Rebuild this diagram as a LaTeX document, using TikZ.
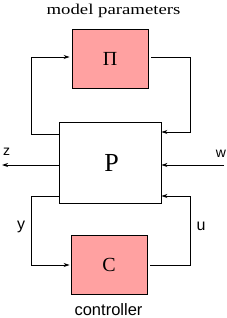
\documentclass[tikz,border=0pt]{standalone}
\usepackage{fontspec}
\setmainfont{Liberation Serif}
\newfontfamily\hv{Liberation Sans}
\usetikzlibrary{arrows.meta}
\definecolor{boxpink}{HTML}{FFA1A1}
\begin{document}
\begin{tikzpicture}[x=1pt,y=-1pt,
  blockbox/.style={draw=black,line width=0.9pt,fill=boxpink,minimum width=76pt,minimum height=59pt,inner sep=0pt,font=\fontsize{20}{20}\selectfont},
  plantbox/.style={draw=black,line width=0.9pt,fill=white,minimum width=102pt,minimum height=81pt,inner sep=0pt,font=\fontsize{26}{26}\selectfont},
  wire/.style={line width=0.9pt},
  arr/.style={wire,-{Stealth[length=6pt,width=4pt]}},
  sig/.style={font=\hv\fontsize{14}{14}\selectfont,anchor=base,inner sep=0pt},
  sigbig/.style={font=\hv\fontsize{16}{16}\selectfont,anchor=base,inner sep=0pt}]
\useasboundingbox (0,0) rectangle (227,318);
\node[blockbox] (Pi) at (110,58.5) {Π};
\node[plantbox] (P) at (110,162.5) {\hspace*{3pt}P};
\node[blockbox] (C) at (109,264.5) {C};
\node[anchor=base,inner sep=0pt,font=\fontsize{15}{15}\selectfont] (mp) at (113.5,14.8) {\scalebox{1.25}[1]{model parameters}};
\node[anchor=base,inner sep=0pt,font=\hv\fontsize{16.5}{16.5}\selectfont] (ctl) at (108.5,315.5) {controller};
\node[sig] (zl) at (6.5,155.5) {z};
\node[sig] (wl) at (221,157) {w};
\node[sigbig] (yl) at (21,229) {y};
\node[sigbig] (ul) at (201,230) {u};
\coordinate (zend) at (2,165);
\coordinate (wstart) at (224,165);
\draw[arr] (P.west |- 0,134) -- (31,134) -- (31,57) -- ([xshift=-2pt]Pi.west |- 0,57);
\draw[arr,shorten <=3pt] (Pi.east |- 0,57) -- (190,57) -- (190,132) -- (P.east |- 0,132);
\draw[arr] (P.west |- zend) -- (zend);
\draw[arr] (wstart) -- (P.east |- wstart);
\draw[arr] (P.west |- 0,196) -- (31,196) -- (31,265) -- ([xshift=-1pt]C.west |- 0,265);
\draw[arr,shorten <=3pt] (C.east |- 0,265) -- (190,265) -- (190,196) -- (P.east |- 0,196);
\end{tikzpicture}
\end{document}
